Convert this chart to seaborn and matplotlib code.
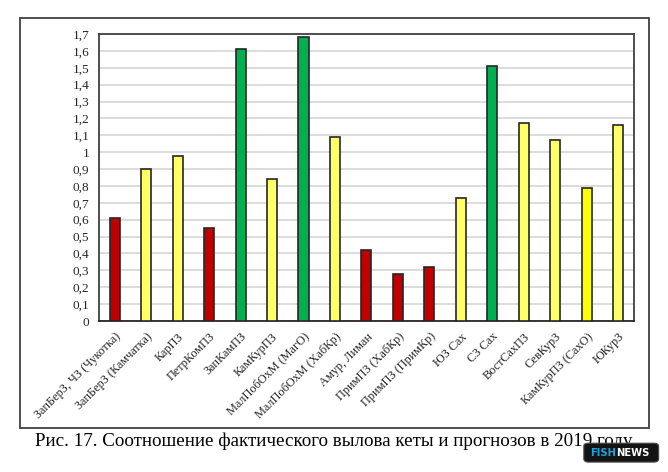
import numpy as np
import pandas as pd
import matplotlib
matplotlib.use("Agg")
import matplotlib.pyplot as plt
from matplotlib.patches import Rectangle, FancyBboxPatch
import seaborn as sns

categories = ["ЗапБерЗ, ЧЗ (Чукотка)", "ЗапБерЗ (Камчатка)", "КарПЗ", "ПетрКомПЗ",
              "ЗапКамПЗ", "КамКурПЗ", "МалПобОхМ (МагО)", "МалПобОхМ (ХабКр)",
              "Амур, Лиман", "ПримПЗ (ХабКр)", "ПримПЗ (ПримКр)", "ЮЗ Сах", "СЗ Сах",
              "ВостСахПЗ", "СевКурЗ", "КамКурПЗ (СахО)", "ЮКурЗ"]
values = [0.61, 0.90, 0.98, 0.55, 1.61, 0.84, 1.68, 1.09, 0.42, 0.28, 0.32,
          0.73, 1.51, 1.17, 1.07, 0.79, 1.16]
bar_colors = ["#C00000", "#FFFF66", "#FFFF66", "#C00000", "#00B050", "#FFFF66",
              "#00B050", "#FFFF66", "#C00000", "#C00000", "#C00000", "#FFFF66",
              "#00B050", "#FFFF66", "#FFFF66", "#FFFF00", "#FFFF66"]
y_ticks = [0, 0.1, 0.2, 0.3, 0.4, 0.5, 0.6, 0.7, 0.8, 0.9, 1.0, 1.1, 1.2, 1.3,
           1.4, 1.5, 1.6, 1.7]
y_tick_labels = ["0", "0,1", "0,2", "0,3", "0,4", "0,5", "0,6", "0,7", "0,8", "0,9",
                 "1", "1,1", "1,2", "1,3", "1,4", "1,5", "1,6", "1,7"]
caption = "Рис. 17. Соотношение фактического вылова кеты и прогнозов в 2019 году"

sns.set_style("white")
plt.rcParams['font.family'] = ['Liberation Serif', 'DejaVu Serif']

df = pd.DataFrame({"cat": categories, "val": values})
fig = plt.figure(figsize=(6.68, 4.72), dpi=100)
fig.patch.set_facecolor("white")

# outer frame
fig.patches.append(Rectangle((0.0299, 0.0932), 0.9416, 0.8686, transform=fig.transFigure,
                             fill=False, edgecolor="#404040", linewidth=1.3, zorder=0))

ax = fig.add_axes([0.1482, 0.3199, 0.8008, 0.6081])
sns.barplot(data=df, x="cat", y="val", hue="cat", palette=dict(zip(categories, bar_colors)),
            saturation=1, legend=False, width=0.32, edgecolor="#262626", linewidth=1.2,
            ax=ax, zorder=3)

ax.set_xlim(-0.5, len(categories) - 0.5)
ax.set_ylim(0, 1.7)
ax.set_yticks(y_ticks)
ax.set_yticklabels(y_tick_labels, fontsize=9.5)
ax.set_xticks(range(len(categories)))
ax.set_xticklabels(categories, rotation=45, ha="right", rotation_mode="anchor", fontsize=8.8)
ax.set_xticks(np.arange(-0.5, len(categories), 1), minor=True)
ax.tick_params(axis="x", which="major", length=0, pad=7)
ax.tick_params(axis="x", which="minor", length=4, width=1, direction="out", color="#262626")
ax.tick_params(axis="y", which="major", length=4, width=1, direction="out", color="#262626", pad=3)
ax.set_xlabel("")
ax.set_ylabel("")
ax.yaxis.grid(True, color="#D9D9D9", linewidth=1.3)
ax.set_axisbelow(True)
for s in ax.spines.values():
    s.set_visible(True)
    s.set_color("#404040")
    s.set_linewidth(1.3)
ax.spines["bottom"].set_color("#262626")

fig.text(0.500, 0.066, caption, ha="center", va="center", fontsize=13.7, color="black")

# FISHNEWS badge
badge = FancyBboxPatch((0.876, 0.023), 0.108, 0.036, boxstyle="round,pad=0.002,rounding_size=0.007",
                       transform=fig.transFigure, facecolor="#141414", edgecolor="#4a4a4a",
                       linewidth=0.8, zorder=5)
fig.patches.append(badge)
fig.text(0.922, 0.041, "FISH", ha="right", va="center", fontsize=7.2, fontweight="bold",
         color="#1FA3E0", family=["DejaVu Sans"], zorder=6)
fig.text(0.922, 0.041, "NEWS", ha="left", va="center", fontsize=7.2, fontweight="bold",
         color="white", family=["DejaVu Sans"], zorder=6)

fig.savefig("out.png", dpi=100, facecolor="white")
